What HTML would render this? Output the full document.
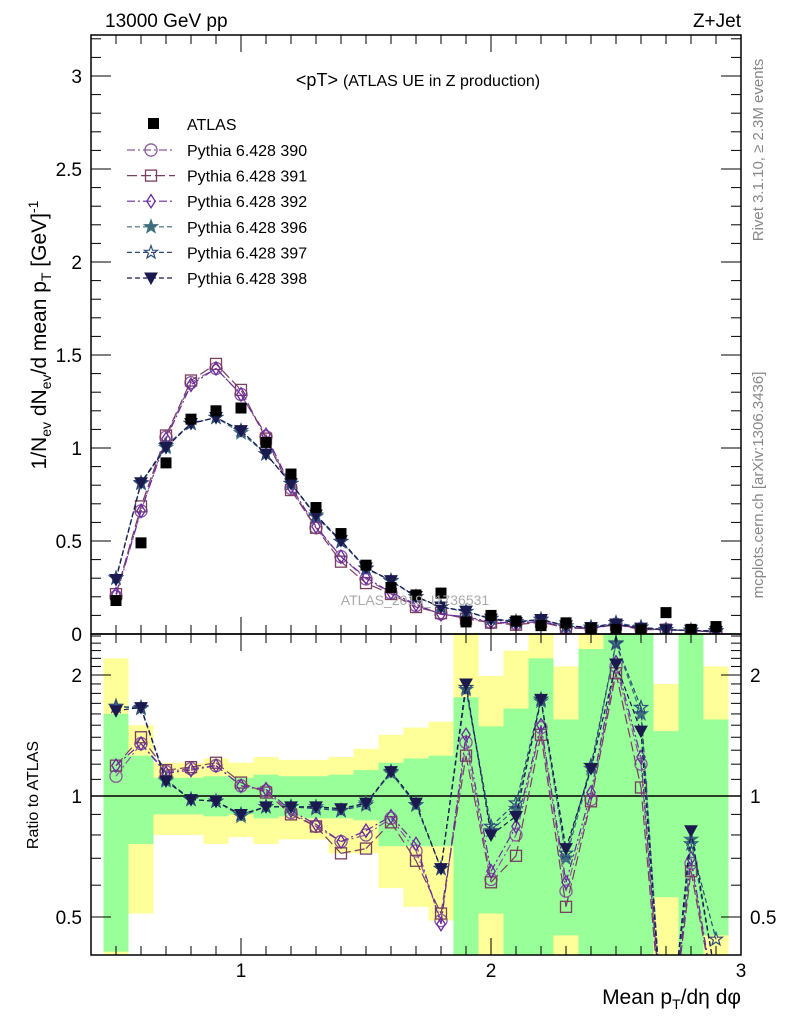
<!DOCTYPE html>
<html><head><meta charset="utf-8"><style>
html,body{margin:0;padding:0;background:#fff;width:786px;height:1024px;overflow:hidden}
svg{display:block;font-family:"Liberation Sans",sans-serif}
</style></head><body>
<svg id="c" width="786" height="1024" xmlns="http://www.w3.org/2000/svg">
<defs>
<clipPath id="clipU"><rect x="91" y="35" width="650" height="599"/></clipPath>
<clipPath id="clipL"><rect x="91" y="634" width="650" height="321"/></clipPath>
</defs>
<g id="bands" clip-path="url(#clipL)"></g>
<g id="upper" clip-path="url(#clipU)"></g>
<g id="lower" clip-path="url(#clipL)"></g>
<g id="axes"></g>
<g id="legend"></g>
<text x="105" y="27" font-size="19">13000 GeV pp</text>
<text x="741" y="27" font-size="19" text-anchor="end">Z+Jet</text>
<text x="418" y="86" font-size="18" text-anchor="middle">&lt;pT&gt; <tspan font-size="16">(ATLAS UE in Z production)</tspan></text>
<text x="415" y="605" font-size="14" fill="#aaa" text-anchor="middle">ATLAS_2019_I1736531</text>
<text transform="translate(763,150) rotate(-90)" font-size="15" fill="#888" text-anchor="middle">Rivet 3.1.10, ≥ 2.3M events</text>
<text transform="translate(763,485) rotate(-90)" font-size="15" fill="#888" text-anchor="middle">mcplots.cern.ch [arXiv:1306.3436]</text>
<text transform="translate(46,335) rotate(-90)" font-size="21" text-anchor="middle">1/N<tspan font-size="14" dy="5">ev</tspan><tspan dy="-5"> dN</tspan><tspan font-size="14" dy="5">ev</tspan><tspan dy="-5">/d mean p</tspan><tspan font-size="14" dy="5">T</tspan><tspan dy="-5"> [GeV]</tspan><tspan font-size="14" dy="-8">-1</tspan></text>
<text transform="translate(38,795) rotate(-90)" font-size="16" text-anchor="middle">Ratio to ATLAS</text>
<text x="741" y="1004" font-size="21" text-anchor="end">Mean p<tspan font-size="14" dy="5">T</tspan><tspan dy="-5">/dη dφ</tspan></text>
</svg>
<script>
const bins=[0.5,0.6,0.7,0.8,0.9,1.0,1.1,1.2,1.3,1.4,1.5,1.6,1.7,1.8,1.9,2.0,2.1,2.2,2.3,2.4,2.5,2.6,2.7,2.8,2.9];
const atlas=[0.18,0.49,0.92,1.155,1.20,1.215,1.03,0.86,0.68,0.54,0.37,0.25,0.21,0.22,0.065,0.10,0.07,0.045,0.06,0.03,0.025,0.022,0.115,0.025,0.04];
const r390=[1.12,1.35,1.15,1.17,1.19,1.06,1.03,0.91,0.84,0.77,0.80,0.88,0.73,0.49,1.36,0.62,0.80,1.48,0.58,0.98,2.10,1.20,0.2,0.68,0.3];
const r391=[1.19,1.40,1.16,1.18,1.21,1.08,1.02,0.90,0.84,0.72,0.74,0.86,0.69,0.51,1.26,0.61,0.71,1.42,0.53,0.97,2.02,1.05,0.2,0.65,0.3];
const r392=[1.19,1.35,1.14,1.16,1.19,1.06,1.04,0.92,0.85,0.77,0.82,0.89,0.76,0.48,1.42,0.65,0.84,1.50,0.61,1.02,2.15,1.25,0.2,0.70,0.3];
const r396=[1.67,1.65,1.09,0.98,0.97,0.89,0.94,0.94,0.94,0.92,0.96,1.14,0.95,0.66,1.84,0.82,0.93,1.72,0.70,1.17,2.39,1.60,0.2,0.78,0.35];
const r397=[1.67,1.66,1.10,0.98,0.97,0.90,0.94,0.94,0.93,0.92,0.95,1.15,0.95,0.66,1.86,0.84,0.96,1.74,0.72,1.19,2.40,1.66,0.2,0.76,0.44];
const r398=[1.63,1.66,1.09,0.98,0.97,0.90,0.94,0.94,0.94,0.93,0.96,1.15,0.96,0.66,1.90,0.80,0.89,1.74,0.74,1.17,2.13,1.45,0.2,0.82,0.35];
const greenLo=[0.41,0.76,0.90,0.90,0.89,0.90,0.88,0.89,0.88,0.88,0.87,0.75,0.75,0.75,0.4,0.51,0.4,0.4,0.45,0.4,0.4,0.4,0.56,0.4,0.45];
const greenHi=[1.6,1.26,1.11,1.11,1.12,1.11,1.13,1.12,1.12,1.13,1.16,1.21,1.24,1.26,1.76,1.49,1.65,2.2,1.55,2.32,2.55,2.55,1.45,2.55,1.55];
const yelLo=[0.4,0.51,0.80,0.80,0.76,0.79,0.76,0.78,0.78,0.72,0.72,0.59,0.53,0.49,0.4,0.4,0.4,0.4,0.4,0.4,0.4,0.4,0.4,0.4,0.4];
const yelHi=[2.2,1.50,1.21,1.21,1.24,1.21,1.25,1.23,1.23,1.25,1.31,1.42,1.48,1.53,2.55,1.99,2.3,2.55,2.1,2.55,2.55,2.55,1.9,2.55,2.1];
const yTicksU=[0,0.5,1,1.5,2,2.5,3];
const yTicksL=[0.5,1,2];
const xTicks=[1,2,3];
const seriesNames=["Pythia 6.428 390","Pythia 6.428 391","Pythia 6.428 392","Pythia 6.428 396","Pythia 6.428 397","Pythia 6.428 398"];

const NS="http://www.w3.org/2000/svg";
const X=v=>91+(v-0.4)*250;
const YU=v=>634-v*186;
const YL=v=>796-Math.log10(v)*402;
const YMIN=634, YMAX=955;
function mk(tag,parent,attrs){const e=document.createElementNS(NS,tag);for(const k in attrs)e.setAttribute(k,attrs[k]);parent.appendChild(e);return e;}
const G=id=>document.getElementById(id);

bins.forEach((b,i)=>{
  let e=mk('rect',G('bands'),{x:X(b-0.05),width:25,y:Math.max(YMIN,YL(yelHi[i])),height:Math.min(YMAX,YL(yelLo[i]))-Math.max(YMIN,YL(yelHi[i])),fill:'#ffff99'});
  
  
  e=mk('rect',G('bands'),{x:X(b-0.05),width:25,y:Math.max(YMIN,YL(greenHi[i])),height:Math.min(YMAX,YL(greenLo[i]))-Math.max(YMIN,YL(greenHi[i])),fill:'#99ff99'});
  
  
});
let ref=mk('line',G('lower'),{x1:91,x2:741,y1:YL(1),y2:YL(1),stroke:'#000','stroke-width':1.5});



const styles=[
 {c:'#8a5a9a',d:'8,3,2,3',m:'circle',f:false},
 {c:'#7a3f60',d:'10,4',m:'square',f:false},
 {c:'#6a2aa0',d:'8,3,2,3',m:'diamond',f:false},
 {c:'#3f6f7f',d:'5,3',m:'star',f:true},
 {c:'#2e4a7a',d:'5,3',m:'star',f:false},
 {c:'#1a1a4e',d:'5,3',m:'tri',f:true}];
const ratios=[r390,r391,r392,r396,r397,r398];

function marker(g,m,x,y,c,f,s){
  const fill=f?c:'none';let e;
  if(m==='circle')e=mk('circle',g,{cx:x,cy:y,r:s*0.55,fill,stroke:c,'stroke-width':1.3});
  else if(m==='square')e=mk('rect',g,{x:x-s/2,y:y-s/2,width:s,height:s,fill,stroke:c,'stroke-width':1.3});
  else if(m==='diamond')e=mk('polygon',g,{points:`${x},${y-s*0.6} ${x+s*0.38},${y} ${x},${y+s*0.6} ${x-s*0.38},${y}`,fill,stroke:c,'stroke-width':1.3});
  else if(m==='tri')e=mk('polygon',g,{points:`${x-s*0.55},${y-s*0.45} ${x+s*0.55},${y-s*0.45} ${x},${y+s*0.55}`,fill,stroke:c,'stroke-width':1});
  else{let p=[];for(let k=0;k<10;k++){const a=-Math.PI/2+k*Math.PI/5,r=k%2?s*0.25:s*0.62;p.push((x+r*Math.cos(a)).toFixed(1)+','+(y+r*Math.sin(a)).toFixed(1));}
   e=mk('polygon',g,{points:p.join(' '),fill,stroke:c,'stroke-width':1.2});}
  return e;
}
// draw segments clipped to the ratio panel's vertical range
function clipSeg(x1,y1,x2,y2){
  let t0=0,t1=1;const dy=y2-y1;
  if(dy!==0){
    const ta=(YMIN-y1)/dy, tb=(YMAX-y1)/dy;
    t0=Math.max(t0,Math.min(ta,tb));t1=Math.min(t1,Math.max(ta,tb));
  } else if(y1<YMIN||y1>YMAX) return null;
  if(t0>t1) return null;
  return [x1+(x2-x1)*t0,y1+dy*t0,x1+(x2-x1)*t1,y1+dy*t1];
}

ratios.forEach((r,si)=>{
  const st=styles[si];
  const gu=mk('g',G('upper'),{});
  
  
  const gl=mk('g',G('lower'),{});
  
  
  const pu=bins.map((b,i)=>X(b)+','+YU(atlas[i]*r[i]).toFixed(1)).join(' ');
  mk('polyline',gu,{points:pu,fill:'none',stroke:st.c,'stroke-width':1.2,'stroke-dasharray':st.d});
  let d='';
  for(let i=0;i<bins.length-1;i++){
    const s=clipSeg(X(bins[i]),YL(r[i]),X(bins[i+1]),YL(r[i+1]));
    if(s) d+=`M${s[0].toFixed(1)},${s[1].toFixed(1)}L${s[2].toFixed(1)},${s[3].toFixed(1)}`;
  }
  mk('path',gl,{d,fill:'none',stroke:st.c,'stroke-width':1.2,'stroke-dasharray':st.d});
  bins.forEach((b,i)=>{
    let e=marker(gu,st.m,X(b),YU(atlas[i]*r[i]),st.c,st.f,11);
    
    
    const y=YL(r[i]);
    if(y>YMIN-6&&y<YMAX+6){
      e=marker(gl,st.m,X(b),y,st.c,st.f,11);
      
      
    }
  });
});
bins.forEach((b,i)=>{
  const e=mk('rect',G('upper'),{x:X(b)-5.5,y:YU(atlas[i])-5.5,width:11,height:11,fill:'#000'});
  
  
});

const A=G('axes');
function ln(x1,y1,x2,y2,w){return mk('line',A,{x1,y1,x2,y2,stroke:'#000','stroke-width':w||1});}
let fr=mk('rect',A,{x:91,y:35,width:650,height:599,fill:'none',stroke:'#000','stroke-width':1.5});


fr=mk('rect',A,{x:91,y:634,width:650,height:321,fill:'none',stroke:'#000','stroke-width':1.5});


for(let k=0;k<=32;k++){const v=k/10,y=YU(v),maj=k%5===0,L=maj?20:10;ln(91,y,91+L,y);ln(741,y,741-L,y);}
yTicksU.forEach(v=>{const t=mk('text',A,{x:82,y:YU(v)+7,'font-size':19,'text-anchor':'end'});t.textContent=v;
 
 });
for(let k=4;k<=25;k++){const v=k/10,y=YL(v);if(y<634||y>955)continue;const maj=(k===5||k===10||k===20),L=maj?20:10;ln(91,y,91+L,y);ln(741,y,741-L,y);}
yTicksL.forEach(v=>{let t=mk('text',A,{x:82,y:YL(v)+7,'font-size':19,'text-anchor':'end'});t.textContent=v;
 
 
 t=mk('text',A,{x:750,y:YL(v)+7,'font-size':19});t.textContent=v;
 
 });
for(let k=5;k<=30;k++){const v=k/10,x=X(v),maj=k%10===0,L=maj?17:9;
 ln(x,634,x,634-L);ln(x,35,x,35+L);ln(x,955,x,955-L);ln(x,634,x,634+L);}
xTicks.forEach(v=>{const t=mk('text',A,{x:X(v),y:977,'font-size':19,'text-anchor':'middle'});t.textContent=v;
 
 });

const Lg=G('legend');
let e=mk('rect',Lg,{x:148,y:118,width:11,height:11,fill:'#000'});
let t=mk('text',Lg,{x:187,y:130,'font-size':16});t.textContent='ATLAS';


seriesNames.forEach((n,i)=>{const y=150+i*25.6,st=styles[i];
 mk('line',Lg,{x1:127,x2:175,y1:y,y2:y,stroke:st.c,'stroke-width':1.2,'stroke-dasharray':st.d});
 marker(Lg,st.m,151,y,st.c,st.f,11);
 const tt=mk('text',Lg,{x:187,y:y+6,'font-size':16});tt.textContent=n;
 
 });
</script>
</body></html>
